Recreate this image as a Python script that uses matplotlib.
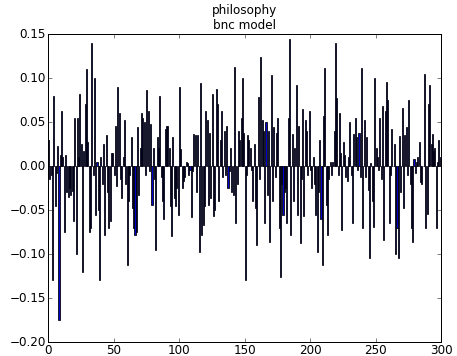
import numpy as np
import matplotlib
matplotlib.use('Agg')
import matplotlib.pyplot as plt

plt.style.use('classic')

# ---------- data ----------
title = "philosophy\nbnc model"

vals_000 = [0.030, -0.015, -0.010, -0.130, 0.080, -0.045, -0.008, 0.023, -0.175, 0.012]
vals_010 = [0.063, 0.010, -0.075, 0.012, -0.030, -0.035, -0.025, -0.033, -0.028, -0.063]
vals_020 = [0.054, -0.100, 0.055, 0.010, 0.082, 0.025, -0.120, 0.017, 0.071, 0.110]
vals_030 = [0.027, -0.075, -0.070, 0.140, -0.010, 0.100, -0.056, 0.005, -0.050, -0.130]
vals_040 = [0.010, -0.020, 0.025, -0.078, 0.035, -0.030, -0.070, -0.062, 0.015, 0.015]
vals_050 = [-0.010, 0.046, -0.023, 0.090, 0.060, -0.015, -0.036, 0.010, 0.052, -0.020]
vals_060 = [-0.113, -0.040, -0.010, 0.033, -0.048, -0.070, -0.078, -0.075, 0.044, -0.033]
vals_070 = [0.020, 0.060, 0.055, 0.050, -0.010, 0.086, 0.063, -0.006, 0.048, -0.044]
vals_080 = [0.020, -0.015, -0.096, 0.033, 0.020, 0.080, -0.013, -0.040, -0.060, 0.042]
vals_090 = [0.045, 0.046, 0.020, -0.045, -0.080, 0.033, -0.036, -0.046, -0.025, -0.056]
vals_100 = [0.090, 0.019, -0.025, -0.017, -0.013, 0.005, 0.003, -0.010, -0.005, -0.058]
vals_110 = [-0.006, 0.036, 0.035, -0.030, 0.035, -0.098, 0.094, -0.078, -0.067, -0.045]
vals_120 = [0.063, 0.052, -0.044, 0.038, -0.036, 0.082, -0.057, -0.050, 0.088, 0.070]
vals_130 = [-0.040, 0.030, 0.063, -0.013, 0.040, -0.010, 0.046, -0.025, -0.006, 0.021]
vals_140 = [-0.030, -0.033, 0.112, -0.065, -0.020, 0.040, 0.030, 0.055, 0.100, 0.038]
vals_150 = [-0.130, -0.010, 0.035, 0.030, 0.021, -0.005, -0.040, 0.025, -0.048, -0.090]
vals_160 = [0.078, -0.015, 0.124, 0.052, 0.040, -0.065, 0.050, -0.033, 0.040, -0.086]
vals_170 = [0.103, -0.040, 0.044, -0.012, 0.037, 0.054, -0.070, -0.126, -0.020, -0.056]
vals_180 = [-0.030, -0.025, -0.065, 0.054, 0.144, -0.078, 0.036, -0.040, 0.020, 0.092]
vals_190 = [-0.056, 0.046, -0.088, -0.015, 0.065, -0.057, 0.052, 0.040, -0.010, 0.063]
vals_200 = [-0.005, -0.025, 0.010, -0.020, -0.056, -0.098, -0.030, 0.030, -0.060, -0.113]
vals_210 = [0.057, 0.111, -0.044, -0.078, -0.015, 0.005, -0.010, 0.005, 0.040, 0.140]
vals_220 = [0.077, -0.010, 0.060, 0.015, -0.073, 0.027, 0.013, -0.013, -0.017, 0.010]
vals_230 = [0.050, -0.010, -0.065, 0.036, 0.055, 0.033, -0.005, 0.038, -0.013, 0.111]
vals_240 = [-0.071, 0.052, -0.013, 0.033, -0.027, -0.105, 0.003, -0.040, -0.069, 0.100]
vals_250 = [0.020, 0.010, -0.005, 0.055, -0.015, 0.068, -0.084, 0.063, 0.096, 0.075]
vals_260 = [-0.065, -0.010, 0.042, 0.000, 0.025, -0.100, -0.071, -0.105, 0.034, -0.030]
vals_270 = [0.066, -0.048, 0.035, 0.044, -0.010, 0.075, -0.020, -0.071, -0.086, 0.008]
vals_280 = [-0.008, 0.005, 0.010, 0.027, -0.018, -0.020, 0.000, 0.105, -0.071, -0.054]
vals_290 = [0.070, 0.092, 0.025, 0.036, 0.017, 0.020, -0.071, 0.004, 0.030, 0.010]

values = (vals_000 + vals_010 + vals_020 + vals_030 + vals_040 + vals_050
          + vals_060 + vals_070 + vals_080 + vals_090 + vals_100 + vals_110
          + vals_120 + vals_130 + vals_140 + vals_150 + vals_160 + vals_170
          + vals_180 + vals_190 + vals_200 + vals_210 + vals_220 + vals_230
          + vals_240 + vals_250 + vals_260 + vals_270 + vals_280 + vals_290)
positions = np.arange(len(values))

# ---------- plot ----------
fig = plt.figure(figsize=(457 / 72, 356 / 72), dpi=72, facecolor='white')
ax = fig.add_axes([48 / 457, 14 / 356, 393 / 457, 308 / 356])

ax.bar(positions, values, width=0.8, align='edge',
       color='#0000cc', edgecolor='k', linewidth=0.8)

ax.set_xlim(0, 300)
ax.set_ylim(-0.20, 0.15)
ax.set_yticks(np.arange(-0.20, 0.151, 0.05))
ax.set_title(title, fontsize=12)
ax.tick_params(labelsize=12, pad=2)

fig.savefig('out.png', dpi=72, facecolor='white')
